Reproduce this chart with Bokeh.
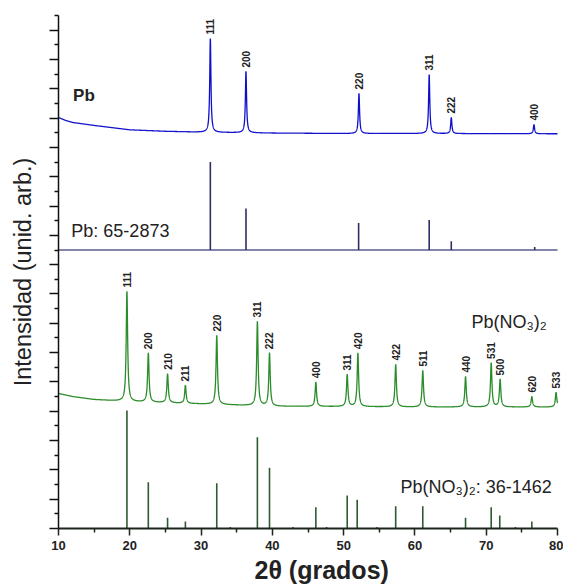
import numpy as np
from bokeh.plotting import figure
from bokeh.models import (Range1d, FixedTicker, ColumnDataSource, LabelSet, Title,
                          CustomJSTickFormatter)
from bokeh.core.properties import value
from bokeh.embed import file_html
from bokeh.resources import INLINE

# ---------------- data (arbitrary intensity units) ----------------
# Pb experimental pattern: background points and peaks
pb_bg_x = [10, 11, 12, 15, 20, 25, 30, 40, 50, 60, 80]
pb_bg_y = [28.04, 27.84, 27.7, 27.5, 27.2, 27.1, 27.04, 26.98, 26.95, 26.95, 26.93]
pb_peak_x = [31.3, 36.3, 52.15, 62.0, 65.1, 76.7]
pb_peak_top = [33.43, 31.18, 29.68, 30.97, 28.04, 27.56]
pb_hkl = ["111", "200", "220", "311", "222", "400"]

# Pb reference card 65-2873
pb_ref_x = [31.3, 36.3, 52.1, 62.0, 65.1, 76.8]
pb_ref_h = [6.0, 2.83, 1.84, 2.04, 0.6, 0.2]
pb_ref_base = 19.0

# Pb(NO3)2 experimental pattern
pbn_bg_x = [10, 12, 15, 20, 30, 40, 50, 60, 80]
pbn_bg_y = [9.21, 9.0, 8.8, 8.66, 8.5, 8.34, 8.32, 8.29, 8.29]
pbn_peak_x = [19.6, 22.6, 25.3, 27.8, 32.2, 37.9, 39.6, 46.1, 50.5, 52.0,
              57.3, 61.1, 67.1, 70.7, 71.95, 76.4, 79.8]
pbn_peak_top = [16.17, 11.96, 10.55, 9.76, 13.17, 14.12, 11.96, 9.98, 10.5, 11.96,
                11.19, 10.78, 10.37, 11.3, 10.17, 9.0, 9.28]
pbn_hkl = ["111", "200", "210", "211", "220", "311", "222", "400", "311", "420",
           "422", "511", "440", "531", "500", "620", "533"]

# Pb(NO3)2 reference card 36-1462
pbn_ref_x = [19.6, 22.6, 25.3, 27.8, 32.2, 34.1, 37.9, 39.6, 42.9, 46.1, 47.6,
             50.5, 51.9, 54.7, 57.3, 61.1, 67.1, 70.7, 71.9, 74.1, 76.4]
pbn_ref_h = [8.05, 3.16, 0.73, 0.48, 3.09, 0.1, 6.23, 4.14, 0.1, 1.45, 0.1,
             2.25, 1.96, 0.1, 1.52, 1.52, 0.73, 1.45, 0.89, 0.1, 0.48]

x_min, x_max = 10, 80
x_ticks_major = [10, 20, 30, 40, 50, 60, 70, 80]
x_ticks_minor = [15, 25, 35, 45, 55, 65, 75]

FONT = "Liberation Sans"


def pattern(bg_x, bg_y, px, ptop, fwhm):
    grid = np.union1d(np.arange(x_min, x_max + 0.0001, 0.01), np.array(px))
    bg = np.interp(grid, bg_x, bg_y)
    y = bg.copy()
    hw = fwhm / 2.0
    for c, t in zip(px, ptop):
        amp = t - np.interp(c, bg_x, bg_y)
        y += amp / (1.0 + ((grid - c) / hw) ** 2)
    return grid, y


# frame is a little wider than 10-80 so that the last peak label is not clipped
p = figure(width=563, height=587, x_range=Range1d(x_min, 80.42), y_range=Range1d(0, 35),
           output_backend="svg", toolbar_location=None,
           min_border_left=58, min_border_right=3, min_border_top=15, min_border_bottom=59)
p.outline_line_color = None
p.xgrid.visible = False
p.ygrid.visible = False
p.background_fill_color = "white"
p.border_fill_color = "white"

# x axis
xa = p.xaxis[0]
xa.bounds = (x_min, x_max)
xa.ticker = FixedTicker(ticks=x_ticks_major, minor_ticks=x_ticks_minor)
xa.axis_line_width = 2
xa.axis_line_color = "#1c241c"
xa.major_tick_line_color = "#1c241c"
xa.minor_tick_line_color = "#1c241c"
xa.major_tick_line_width = 1.5
xa.minor_tick_line_width = 1.5
xa.major_tick_in = 0
xa.major_tick_out = 7
xa.minor_tick_in = 0
xa.minor_tick_out = 4
xa.major_label_text_font = FONT
xa.major_label_text_font_style = "bold"
xa.major_label_text_font_size = "13px"
xa.major_label_text_color = "#222222"
xa.major_label_standoff = 5

# x axis title, set in the panel below the axis, slightly right of centre like the reference
p.add_layout(Title(text="2θ (grados)", align="left", offset=196, standoff=2,
                   text_font=FONT, text_font_style="bold", text_font_size="25px",
                   text_color="#222222"), "below")

# y axis (ticks only, no numbers)
ya = p.yaxis[0]
ya.ticker = FixedTicker(ticks=list(range(0, 36, 2)), minor_ticks=list(range(1, 36, 2)))
ya.formatter = CustomJSTickFormatter(code="return ''")
ya.axis_line_width = 1.5
ya.axis_line_color = "#111111"
ya.major_tick_line_color = "#111111"
ya.minor_tick_line_color = "#111111"
ya.major_tick_line_width = 1.3
ya.minor_tick_line_width = 1.3
ya.major_tick_in = 0
ya.major_tick_out = 9
ya.minor_tick_in = 0
ya.minor_tick_out = 4
ya.major_label_standoff = 0
ya.axis_label = "Intensidad (unid. arb.)"
ya.axis_label_text_font = FONT
ya.axis_label_text_font_style = "normal"
ya.axis_label_text_font_size = "23.5px"
ya.axis_label_text_color = "#222222"
ya.axis_label_standoff = 14

# Pb experimental
gx, gy = pattern(pb_bg_x, pb_bg_y, pb_peak_x, pb_peak_top, 0.2)
p.line(gx, gy, line_color="#1010cc", line_width=1.3)

# Pb reference
p.line([x_min, x_max], [pb_ref_base, pb_ref_base], line_color="#5c5c90", line_width=1.5)
p.segment(x0=pb_ref_x, y0=[pb_ref_base] * len(pb_ref_x), x1=pb_ref_x,
          y1=[pb_ref_base + h for h in pb_ref_h], line_color="#2e2e66", line_width=1.6)

# Pb(NO3)2 experimental
gx2, gy2 = pattern(pbn_bg_x, pbn_bg_y, pbn_peak_x, pbn_peak_top, 0.24)
p.line(gx2, gy2, line_color="#2a8c2a", line_width=1.3)

# Pb(NO3)2 reference
p.segment(x0=pbn_ref_x, y0=[0] * len(pbn_ref_x), x1=pbn_ref_x, y1=pbn_ref_h,
          line_color="#2f5a2f", line_width=1.6)

# peak labels
lab_src = ColumnDataSource(dict(x=pb_peak_x + pbn_peak_x, y=pb_peak_top + pbn_peak_top,
                                t=pb_hkl + pbn_hkl))
p.add_layout(LabelSet(x="x", y="y", text="t", source=lab_src, angle=np.pi / 2, y_offset=4,
                      text_align="left", text_baseline="middle", text_font=value(FONT),
                      text_font_style="bold", text_font_size="10px", text_color="#222222"))

# series names
p.text(x=[12.05], y=[29.54], text=["Pb"], text_font=value(FONT), text_font_style="bold",
       text_font_size="17px", text_color="#222222", text_align="left", text_baseline="alphabetic")
p.text(x=[11.8], y=[20.33], text=["Pb: 65-2873"], text_font=value(FONT),
       text_font_style="normal", text_font_size="18px", text_color="#222222",
       text_align="left", text_baseline="alphabetic")
p.text(x=[78.5], y=[14.1], text=["Pb(NO₃)₂"], text_font=value(FONT),
       text_font_style="normal", text_font_size="18px", text_color="#222222",
       text_align="right", text_baseline="alphabetic")
p.text(x=[79.2], y=[2.8], text=["Pb(NO₃)₂: 36-1462"], text_font=value(FONT),
       text_font_style="normal", text_font_size="18px", text_color="#222222",
       text_align="right", text_baseline="alphabetic")

open("out.html", "w").write(file_html(p, INLINE))
